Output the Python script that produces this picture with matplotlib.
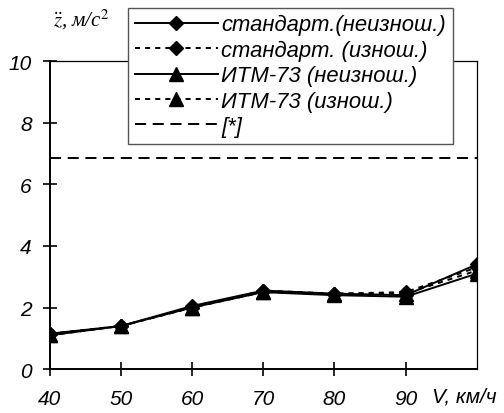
import matplotlib
matplotlib.use("Agg")
import matplotlib.pyplot as plt

# speed, km/h
speed = [40, 50, 60, 70, 80, 90, 100]
# vertical acceleration, m/s^2
std_new = [1.15, 1.40, 2.05, 2.55, 2.45, 2.40, 3.40]
std_worn = [1.15, 1.40, 2.00, 2.55, 2.45, 2.50, 3.30]
itm_new = [1.10, 1.40, 2.00, 2.50, 2.40, 2.35, 3.10]
itm_worn = [1.10, 1.40, 2.00, 2.50, 2.45, 2.45, 3.20]
limit = 6.85

labels = ["стандарт.(неизнош.)", "стандарт. (изнош.)",
          "ИТМ-73 (неизнош.)", "ИТМ-73 (изнош.)", "[*]"]
xticks = [40, 50, 60, 70, 80, 90]
yticks = [0, 2, 4, 6, 8, 10]

plt.rcParams["font.family"] = ["Liberation Sans", "DejaVu Sans"]
plt.rcParams["mathtext.fontset"] = "stix"

fig = plt.figure(figsize=(5.04, 4.14), dpi=100)
ax = fig.add_axes([0.099, 0.106, 0.847, 0.744])

dot = (0, (2.6, 2.6))
ax.plot(speed, std_new, color="black", lw=1.4, marker="D", ms=7.5, label=labels[0])
ax.plot(speed, std_worn, color="black", lw=1.4, ls=dot, marker="D", ms=7.5, label=labels[1])
ax.plot(speed, itm_new, color="black", lw=1.4, marker="^", ms=9.5, label=labels[2])
ax.plot(speed, itm_worn, color="black", lw=1.4, ls=dot, marker="^", ms=9.5, label=labels[3])
ax.axhline(limit, color="black", lw=1.4, ls=(0, (5.7, 3.4)), label=labels[4])

ax.set_xlim(40, 100)
ax.set_ylim(0, 10)
ax.set_xticks(xticks)
ax.set_yticks(yticks)
ax.tick_params(direction="inout", length=10, width=1.2, labelsize=15)
ax.tick_params(axis="y", pad=8)
ax.tick_params(axis="x", pad=9)
for lab in ax.get_xticklabels() + ax.get_yticklabels():
    lab.set_style("italic")
for side in ["left", "bottom"]:
    ax.spines[side].set_linewidth(1.4)
for side in ["top", "right"]:
    ax.spines[side].set_linewidth(0.9)

ax.text(0.895, -0.105, "V, км/ч", transform=ax.transAxes, ha="left", va="baseline",
        fontsize=15, style="italic")
fig.text(0.161, 0.952, r"$\ddot{z}$, м/с$^2$", ha="center", va="center",
         fontsize=15, family="Liberation Serif", style="italic")

leg = fig.legend(loc="upper left", bbox_to_anchor=(0.254, 0.979), numpoints=1,
                 handlelength=3.8, labelspacing=0.2, borderpad=0.3,
                 handletextpad=0.15, borderaxespad=0, fancybox=False, framealpha=1,
                 prop={"size": 15.8, "style": "italic"})
leg.get_frame().set_edgecolor("#555555")
leg.get_frame().set_linewidth(1.0)

fig.savefig("out.png", dpi=100)
